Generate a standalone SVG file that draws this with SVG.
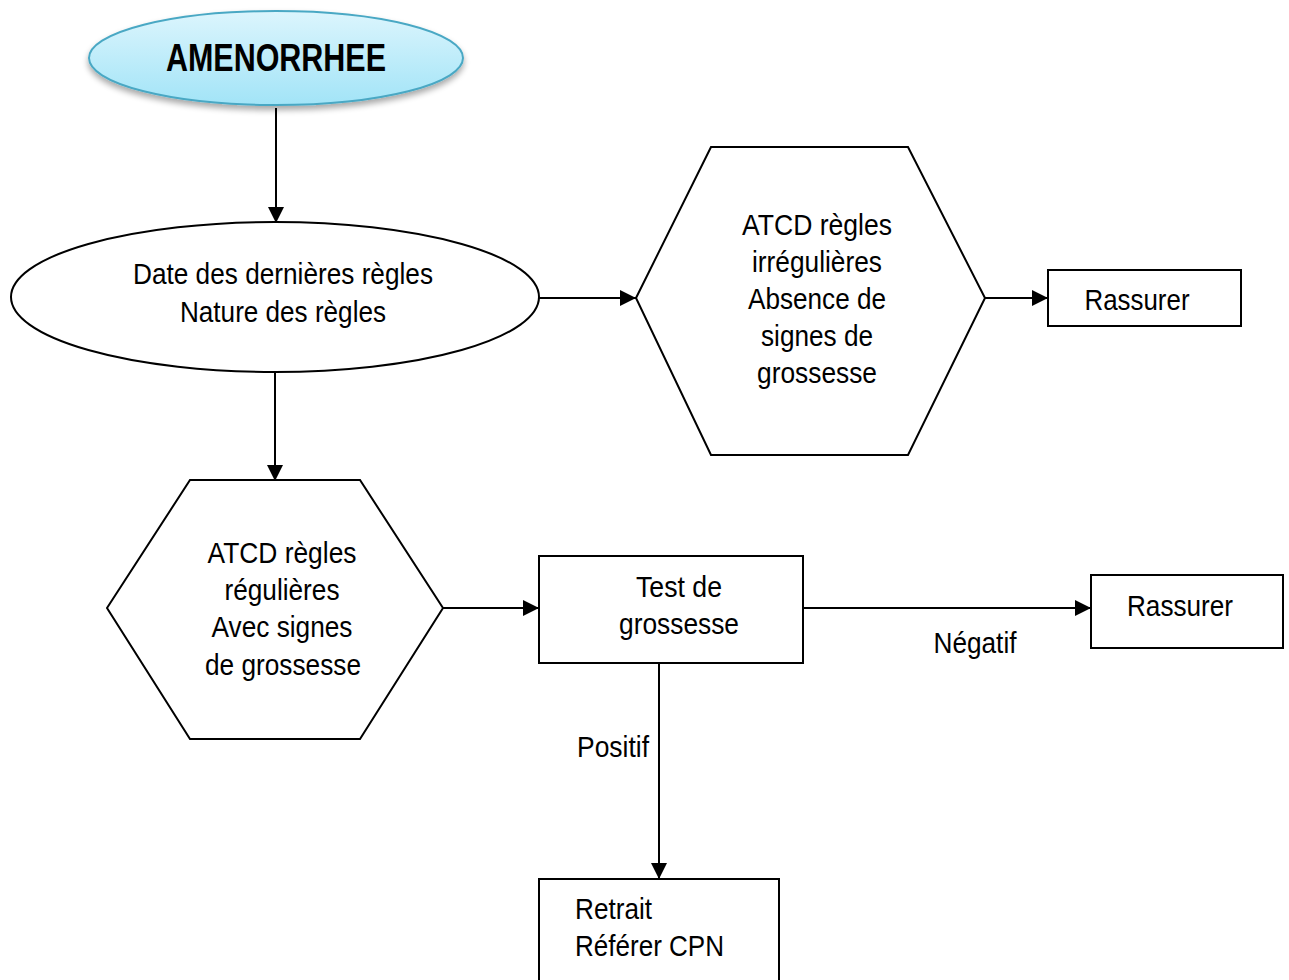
<svg xmlns="http://www.w3.org/2000/svg" width="1289" height="980" viewBox="0 0 1289 980">
  <defs>
    <linearGradient id="blueFill" x1="0" y1="0" x2="0" y2="1">
      <stop offset="0" stop-color="#dcf5fd"/>
      <stop offset="1" stop-color="#a2e4f7"/>
    </linearGradient>
    <filter id="softShadow" x="-10%" y="-20%" width="120%" height="150%">
      <feGaussianBlur in="SourceAlpha" stdDeviation="3"/>
      <feOffset dx="0" dy="4" result="blur"/>
      <feComponentTransfer><feFuncA type="linear" slope="0.35"/></feComponentTransfer>
      <feMerge><feMergeNode/><feMergeNode in="SourceGraphic"/></feMerge>
    </filter>
    <marker id="arrow" viewBox="0 0 10 10" refX="10" refY="5" markerWidth="16" markerHeight="16" markerUnits="userSpaceOnUse" orient="auto">
      <path d="M0,0 L10,5 L0,10 z" fill="#000"/>
    </marker>
  </defs>
  <style>
    .shape { fill: #fff; stroke: #000; stroke-width: 2; }
    .lbl { font-family: "Liberation Sans Narrow", "Liberation Sans", Arial, sans-serif; font-size: 30px; fill: #000; }
    .title { font-size: 39px; font-weight: bold; }
    .mid { text-anchor: middle; }
    .link { stroke: #000; stroke-width: 2; fill: none; marker-end: url(#arrow); }
  </style>
  <rect width="1289" height="980" fill="#fff"/>

  <g id="connectors">
    <line class="link" x1="276" y1="108" x2="276" y2="223"/>
    <line class="link" x1="539" y1="298" x2="636" y2="298"/>
    <line class="link" x1="985" y1="298" x2="1048" y2="298"/>
    <line class="link" x1="275" y1="372" x2="275" y2="481"/>
    <line class="link" x1="443" y1="608" x2="539" y2="608"/>
    <line class="link" x1="803" y1="608" x2="1091" y2="608"/>
    <line class="link" x1="659" y1="663" x2="659" y2="879"/>
    <text class="lbl mid" x="975" y="653" textLength="83" lengthAdjust="spacingAndGlyphs">Négatif</text>
    <text class="lbl mid" x="613" y="757" textLength="72" lengthAdjust="spacingAndGlyphs">Positif</text>
  </g>

  <g id="amenorrhee">
    <ellipse cx="276" cy="58" rx="187" ry="47" fill="url(#blueFill)" stroke="#4aa8c4" stroke-width="2" filter="url(#softShadow)"/>
    <text class="lbl title mid" x="276" y="71" textLength="220" lengthAdjust="spacingAndGlyphs">AMENORRHEE</text>
  </g>

  <g id="date-regles">
    <ellipse class="shape" cx="275" cy="297" rx="264" ry="75"/>
    <text class="lbl mid" x="283" y="284" textLength="300" lengthAdjust="spacingAndGlyphs">Date des dernières règles</text>
    <text class="lbl mid" x="283" y="322" textLength="206" lengthAdjust="spacingAndGlyphs">Nature des règles</text>
  </g>

  <g id="atcd-irregulieres">
    <polygon class="shape" points="636,298 711,147 908,147 985,298 908,455 711,455"/>
    <text class="lbl mid" x="817" y="235" textLength="150" lengthAdjust="spacingAndGlyphs">ATCD règles</text>
    <text class="lbl mid" x="817" y="272" textLength="130" lengthAdjust="spacingAndGlyphs">irrégulières</text>
    <text class="lbl mid" x="817" y="309" textLength="138" lengthAdjust="spacingAndGlyphs">Absence de</text>
    <text class="lbl mid" x="817" y="346" textLength="112" lengthAdjust="spacingAndGlyphs">signes de</text>
    <text class="lbl mid" x="817" y="383" textLength="120" lengthAdjust="spacingAndGlyphs">grossesse</text>
  </g>

  <g id="rassurer-1">
    <rect class="shape" x="1048" y="270" width="193" height="56"/>
    <text class="lbl mid" x="1137" y="310" textLength="105" lengthAdjust="spacingAndGlyphs">Rassurer</text>
  </g>

  <g id="atcd-regulieres">
    <polygon class="shape" points="107,608 190,480 360,480 443,608 360,739 190,739"/>
    <text class="lbl mid" x="282" y="563" textLength="149" lengthAdjust="spacingAndGlyphs">ATCD règles</text>
    <text class="lbl mid" x="282" y="600" textLength="115" lengthAdjust="spacingAndGlyphs">régulières</text>
    <text class="lbl mid" x="282" y="637" textLength="141" lengthAdjust="spacingAndGlyphs">Avec signes</text>
    <text class="lbl mid" x="283" y="675" textLength="156" lengthAdjust="spacingAndGlyphs">de grossesse</text>
  </g>

  <g id="test-grossesse">
    <rect class="shape" x="539" y="556" width="264" height="107"/>
    <text class="lbl mid" x="679" y="597" textLength="86" lengthAdjust="spacingAndGlyphs">Test de</text>
    <text class="lbl mid" x="679" y="634" textLength="120" lengthAdjust="spacingAndGlyphs">grossesse</text>
  </g>

  <g id="rassurer-2">
    <rect class="shape" x="1091" y="575" width="192" height="73"/>
    <text class="lbl mid" x="1180" y="616" textLength="106" lengthAdjust="spacingAndGlyphs">Rassurer</text>
  </g>

  <g id="retrait">
    <rect class="shape" x="539" y="879" width="240" height="115"/>
    <text class="lbl" x="575" y="919" textLength="77" lengthAdjust="spacingAndGlyphs">Retrait</text>
    <text class="lbl" x="575" y="956" textLength="149" lengthAdjust="spacingAndGlyphs">Référer CPN</text>
  </g>
</svg>
